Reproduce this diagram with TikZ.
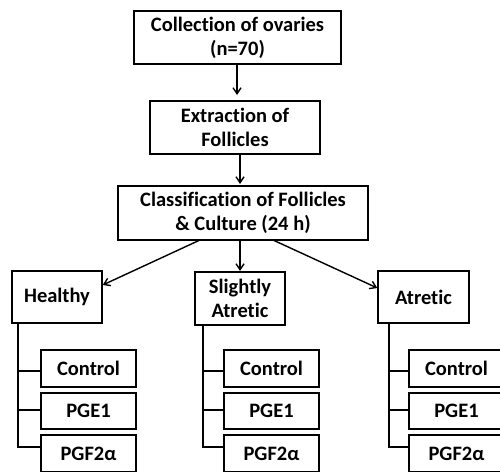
\documentclass[tikz,border=0pt]{standalone}
\usepackage{fontspec}
\setmainfont{Carlito}[Ligatures={NoCommon,NoContextual}]
\usetikzlibrary{arrows.meta,calc}
\begin{document}
\begin{tikzpicture}[x=1pt,y=-1pt,
  box/.style={draw=black,line width=1.4pt,align=center,inner sep=0pt,
    font=\bfseries\fontsize{20.5}{24}\selectfont},
  conn/.style={draw=black,line width=1.4pt},
  arr/.style={conn,-{Straight Barb[length=6pt,width=8pt,line width=1.4pt]}}]
\useasboundingbox (0,0) rectangle (500,471);
\clip (0,0) rectangle (500,471);
\fill[white] (0,0) rectangle (500,471);
% main chain
\node[box,minimum width=207pt,minimum height=53pt] (b1) at (237.5,37.5) {Collection of ovaries\\(n=70)};
\node[box,minimum width=170pt,minimum height=53pt] (b2) at (235,127.5) {Extraction of\\Follicles};
\node[box,minimum width=250pt,minimum height=54pt] (b3) at (243,213) {Classification of Follicles\\\& Culture (24 h)};
% categories
\node[box,minimum width=90pt,minimum height=52pt] (h) at (57,297) {Healthy};
\node[box,minimum width=90pt,minimum height=53pt] (s) at (240,298.5) {Slightly\\Atretic};
\node[box,minimum width=91pt,minimum height=52pt] (a) at (423.5,297) {Atretic};
% arrows
\coordinate (t1) at (237,95);
\draw[arr] (b1.south -| t1) -- (t1);
\coordinate (t2) at (240,184);
\draw[arr] (b2.south -| t2) -- (t2);
\coordinate (s3l) at (200,240);
\coordinate (s3r) at (273,240);
\draw[arr] (s3l) -- (h.east |- 0,285);
\coordinate (t3) at (240,271);
\draw[arr] (b3.south -| t3) -- (t3);
\draw[arr] (s3r) -- (a.west |- 0,288);
% sub boxes
\foreach \g/\vx/\bx in {h/18/88.5, s/203/271.5, a/389/456.5}{
  \node[box,minimum width=95pt,minimum height=37pt] (\g c) at (\bx,368.5) {Control};
  \node[box,minimum width=95pt,minimum height=36pt] (\g p) at (\bx,411) {PGE1};
  \node[box,minimum width=95pt,minimum height=37pt] (\g f) at (\bx,453.5) {PGF2α};
  \coordinate (\g v) at (\vx,447);
  \draw[conn] (\g.south -| \g v) -- (\g v) -- (\g f.west |- \g v);
  \draw[conn] (\vx,371) -- (\g c.west |- 0,371);
  \draw[conn] (\vx,410) -- (\g p.west |- 0,410);
}
\end{tikzpicture}
\end{document}
